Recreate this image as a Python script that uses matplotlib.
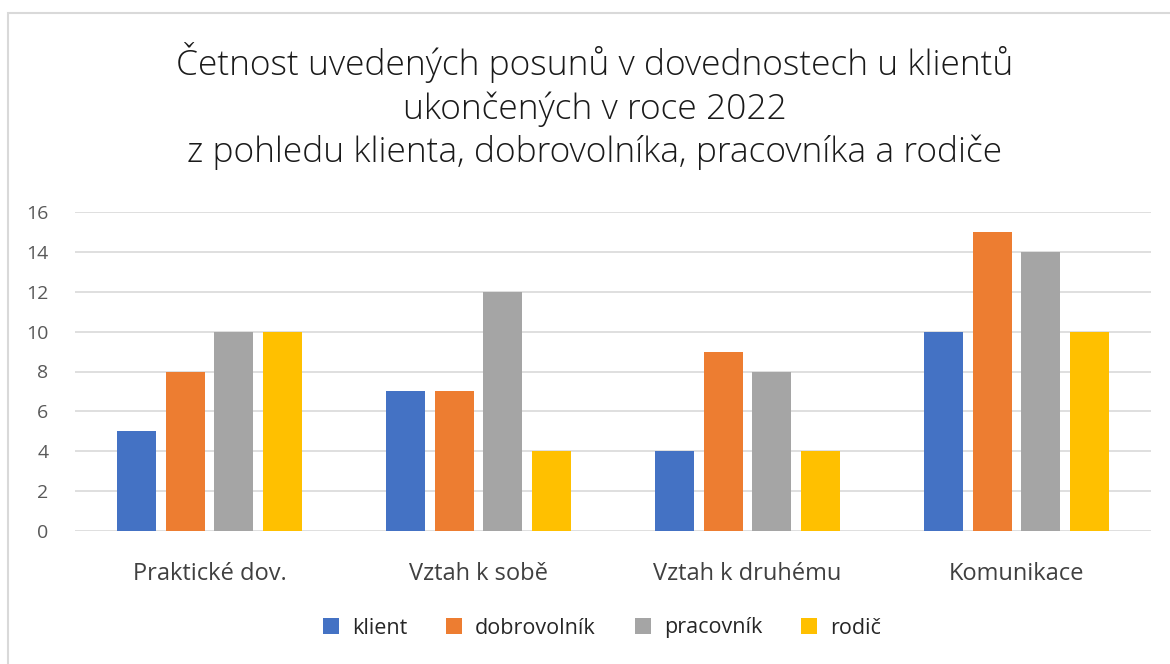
import numpy as np
import matplotlib as mpl
mpl.use('Agg')
import matplotlib.pyplot as plt
from matplotlib.patches import Rectangle

categories = ["Praktické dov.", "Vztah k sobě", "Vztah k druhému", "Komunikace"]
series_names = ["klient", "dobrovolník", "pracovník", "rodič"]
klient = [5, 7, 4, 10]
dobrovolnik = [8, 7, 9, 15]
pracovnik = [10, 12, 8, 14]
rodic = [10, 4, 4, 10]
colors = ["#4472C4", "#ED7D31", "#A5A5A5", "#FFC000"]

plt.rcParams['font.family'] = ['Open Sans', 'DejaVu Sans']

fig = plt.figure(figsize=(11.7, 6.64), dpi=100)
fig.patches.append(Rectangle((8/1170, -0.01), 1.0, 1 - 13/664 + 0.01, transform=fig.transFigure,
                             fill=False, edgecolor="#d9d9d9", linewidth=1.5))
ax = fig.add_axes([75/1170, 1 - 531/664, 1076/1170, 319/664])

x = np.arange(len(categories))
width = 0.145
pitch = 0.182
values = [klient, dobrovolnik, pracovnik, rodic]
for i, (name, vals) in enumerate(zip(series_names, values)):
    ax.bar(x + (i - 1.5) * pitch, vals, width, color=colors[i], label=name, zorder=3)

ax.set_xlim(-0.5, 3.5)
ax.set_ylim(0, 16)
ax.set_yticks(range(0, 17, 2))
ax.grid(axis='y', color="#d9d9d9", linewidth=1.2, zorder=0)
for s in ax.spines.values():
    s.set_visible(False)
ax.tick_params(length=0)
ax.tick_params(axis='y', labelsize=14, labelcolor="#595959", pad=19)
ax.set_xticks(x)
ax.set_xticklabels(categories, fontsize=17, color="#404040")
ax.tick_params(axis='x', pad=22)

fig.text(595/1170, 1 - 106/664, "Četnost uvedených posunů v dovednostech u klientů\nukončených v roce 2022\nz pohledu klienta, dobrovolníka, pracovníka a rodiče",
         ha='center', va='center', fontsize=25.5, color="#1a1a1a", linespacing=1.3, fontweight='light')

fig.legend(loc='center', bbox_to_anchor=(602/1170, 1 - 628/664), ncol=4, frameon=False,
           fontsize=15.5, handlelength=0.75, handleheight=0.75, handletextpad=0.6, columnspacing=1.8,
           labelcolor="#262626")

fig.savefig("out.png", dpi=100)
